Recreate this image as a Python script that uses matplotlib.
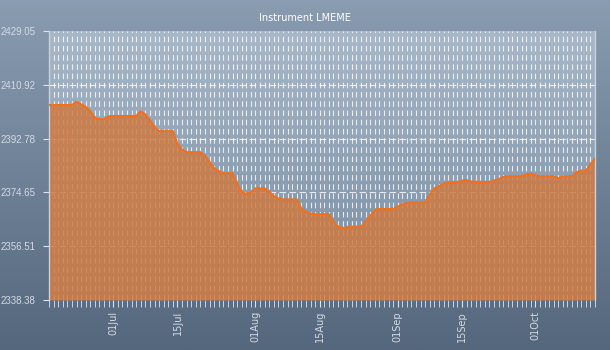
import numpy as np
import matplotlib
matplotlib.use("Agg")
import matplotlib.pyplot as plt
import matplotlib.dates as mdates
import datetime as dt

title = "Instrument LMEME"
start_date = "2014-06-17"
values = [
    2404.1, 2404.1, 2404.1, 2404.1, 2404.1, 2404.1, 2405.2, 2404.3, 2403.5, 2402.0,
    2399.8, 2399.3, 2399.3, 2400.3, 2400.4, 2400.4, 2400.4, 2400.4, 2400.4, 2400.4,
    2402.0, 2400.9, 2399.0, 2396.7, 2395.3, 2395.3, 2395.3, 2395.3, 2391.0, 2389.1,
    2388.2, 2388.2, 2388.2, 2388.2, 2386.9, 2384.9, 2382.8, 2381.8, 2381.1, 2381.1,
    2381.1, 2377.5, 2374.9, 2374.1, 2374.7, 2376.0, 2376.0, 2376.0, 2374.9, 2373.4,
    2372.6, 2372.3, 2372.3, 2372.3, 2372.3, 2369.2, 2368.1, 2367.5, 2367.3, 2367.3,
    2367.3, 2367.3, 2364.6, 2363.2, 2362.4, 2363.0, 2363.1, 2363.1, 2363.1, 2364.7,
    2366.7, 2368.7, 2369.05, 2369.05, 2369.05, 2369.05, 2369.8, 2370.6, 2371.1, 2371.2,
    2371.2, 2371.2, 2371.2, 2373.9, 2376.0, 2376.7, 2377.6, 2378.05, 2378.05, 2378.05,
    2378.6, 2378.8, 2378.3, 2378.15, 2378.15, 2378.15, 2378.15, 2378.7, 2379.1, 2379.8,
    2380.1, 2380.1, 2380.1, 2380.1, 2380.6, 2381.0, 2380.4, 2380.1, 2380.1, 2380.1,
    2380.1, 2379.4, 2380.0, 2380.1, 2380.1, 2381.4, 2382.0, 2382.0, 2384.0, 2385.9,
]
y_ticks = [2338.38, 2356.51, 2374.65, 2392.78, 2410.92, 2429.05]
y_tick_labels = ["2338.38", "2356.51", "2374.65", "2392.78", "2410.92", "2429.05"]

d0 = dt.datetime.strptime(start_date, "%Y-%m-%d")
dates = [d0 + dt.timedelta(days=i) for i in range(len(values))]
xn = mdates.date2num(dates)

fig = plt.figure(figsize=(6.1, 3.5), dpi=100)

# figure background gradient
bg = fig.add_axes([0, 0, 1, 1], zorder=-10)
grad = np.linspace(0, 1, 256).reshape(-1, 1)
top_c = np.array([138, 156, 176]) / 255
bot_c = np.array([84, 103, 125]) / 255
img = top_c[None, None, :] * (1 - grad[:, :, None]) + bot_c[None, None, :] * grad[:, :, None]
bg.imshow(img, aspect="auto", extent=[0, 1, 0, 1])
bg.set_axis_off()

ax = fig.add_axes([49 / 610, 1 - 300 / 350, 546 / 610, 269 / 350])
ax.set_xlim(xn[0], xn[-1])
ax.set_ylim(y_ticks[0], y_ticks[-1])

# plot area gradient
ptop = np.array([168, 184, 201]) / 255
pbot = np.array([118, 138, 160]) / 255
pimg = ptop[None, None, :] * (1 - grad[:, :, None]) + pbot[None, None, :] * grad[:, :, None]
ax.imshow(pimg, aspect="auto", extent=[xn[0], xn[-1], y_ticks[0], y_ticks[-1]], zorder=0)

# grid
for x in xn:
    ax.axvline(x, color="white", lw=0.8, ls=(0, (5, 3.3)), alpha=0.8, zorder=1)
for y in y_ticks[1:-1]:
    ax.axhline(y, color="white", lw=0.8, ls=(0, (6, 3)), alpha=0.8, zorder=1)

ax.fill_between(xn, values, y_ticks[0], color="#cf7a40", alpha=0.84, lw=0, zorder=2)
ax.plot(xn, values, color="#f26f1e", lw=1.5, zorder=3)

ax.set_yticks(y_ticks)
ax.set_yticklabels(y_tick_labels, family="Liberation Sans")
ax.xaxis.set_major_locator(mdates.DayLocator(bymonthday=[1, 15]))
ax.xaxis.set_major_formatter(mdates.DateFormatter("%d%b"))
ax.xaxis.set_minor_locator(mdates.DayLocator())
ax.tick_params(axis="x", which="major", length=5, color="#dfe4ea", labelsize=7,
               labelcolor="#d4dbe3", labelrotation=90, pad=3)
ax.tick_params(axis="x", which="minor", length=5, color="#dfe4ea")
ax.tick_params(axis="y", length=4, color="#dfe4ea", labelsize=7, labelcolor="#d4dbe3", pad=6)

ax.spines["top"].set_visible(False)
ax.spines["bottom"].set_visible(False)
ax.spines["left"].set_color("#c9d2dc")
ax.spines["right"].set_color("#c9d2dc")
ax.spines["left"].set_linewidth(1)
ax.spines["right"].set_linewidth(1)

fig.text(0.5, 1 - 18 / 350, title, ha="center", va="center", color="white", fontsize=7)

fig.savefig("out.png", dpi=100)
